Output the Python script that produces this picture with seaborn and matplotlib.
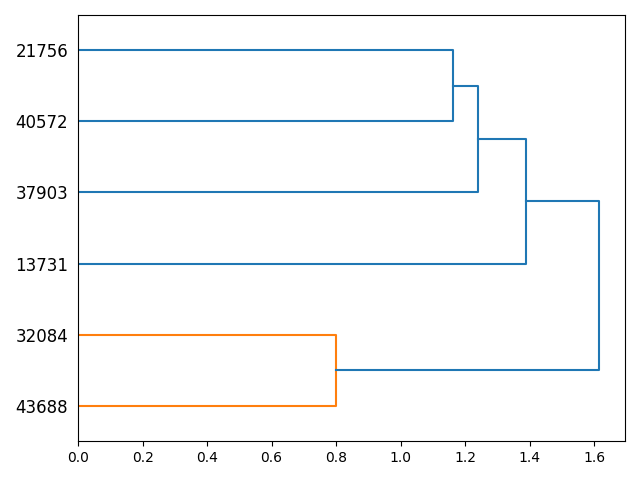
import matplotlib
matplotlib.use("Agg")
import matplotlib.pyplot as plt
import seaborn as sns
import pandas as pd

# Leaves, bottom to top
leaves = ["43688", "32084", "13731", "37903", "40572", "21756"]
# Merges: (left member, right member, height, colour)
merge_left = ["43688", "40572", "37903", "13731", "A"]
merge_right = ["32084", "21756", "B", "C", "D"]
merge_names = ["A", "B", "C", "D", "E"]
merge_heights = [0.800, 1.163, 1.240, 1.389, 1.616]
merge_colors = ["#ff7f0e", "#1f77b4", "#1f77b4", "#1f77b4", "#1f77b4"]

pos = {name: 5 + 10 * i for i, name in enumerate(leaves)}
hgt = {name: 0.0 for name in leaves}

fig, ax = plt.subplots(figsize=(6.4, 4.8), dpi=100)
for a, b, name, h, c in zip(merge_left, merge_right, merge_names, merge_heights, merge_colors):
    ya, yb = pos[a], pos[b]
    df = pd.DataFrame({"x": [hgt[a], h, h, hgt[b]], "y": [ya, ya, yb, yb]})
    sns.lineplot(data=df, x="x", y="y", sort=False, estimator=None, color=c,
                 linewidth=1.5, ax=ax)
    pos[name] = (ya + yb) / 2
    hgt[name] = h

ax.set_xlim(0, max(merge_heights) * 1.05)
ax.set_ylim(0, 10 * len(leaves))
ax.set_yticks([pos[l] for l in leaves])
ax.set_yticklabels(leaves, fontsize=12)
for line in ax.get_yticklines():
    line.set_visible(False)
ax.set_xlabel("")
ax.set_ylabel("")
fig.subplots_adjust(left=0.122, right=0.977, top=0.969, bottom=0.081)
fig.savefig("out.png", dpi=100)
